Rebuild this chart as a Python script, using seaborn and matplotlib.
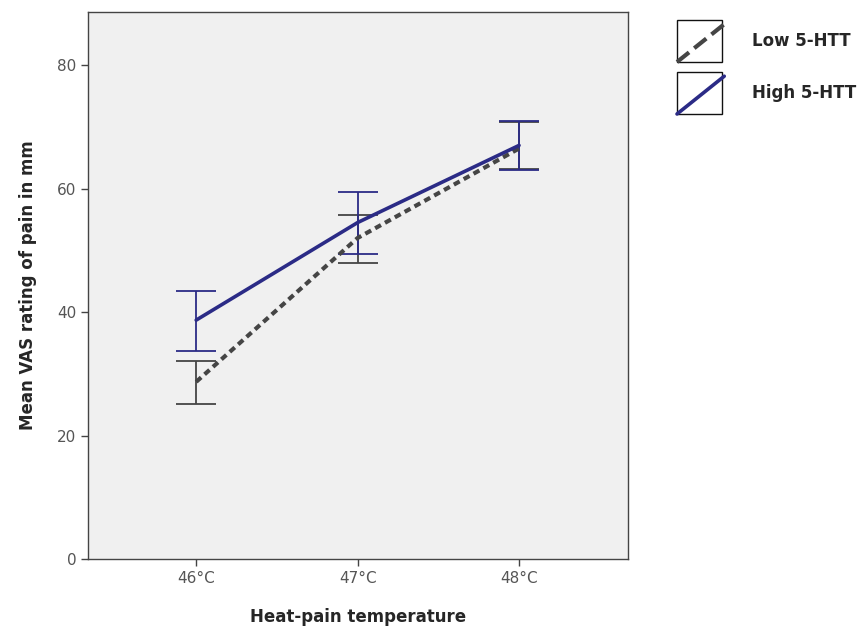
import matplotlib
matplotlib.use("Agg")
import matplotlib.pyplot as plt
import matplotlib.lines as mlines
import matplotlib.patches as mpatches
from matplotlib.legend_handler import HandlerBase
import pandas as pd
import seaborn as sns

# values
temps = ["46°C", "47°C", "48°C"]
groups = ["Low 5-HTT", "High 5-HTT"]
low_mean = [28.7, 52.0, 66.5]
low_upper = [32.1, 55.8, 70.8]
low_lower = [25.1, 47.9, 63.2]
high_mean = [38.7, 54.5, 67.0]
high_upper = [43.4, 59.4, 71.0]
high_lower = [33.7, 49.4, 63.0]

colors = {"Low 5-HTT": "#454545", "High 5-HTT": "#2b2b86"}
dashes = {"Low 5-HTT": (1.6, 1.1), "High 5-HTT": ""}

df = pd.DataFrame({
    "temp": temps * 2,
    "group": [groups[0]] * 3 + [groups[1]] * 3,
    "mean": low_mean + high_mean,
})

sns.set_style("white")
plt.rcParams["font.family"] = ["DejaVu Sans"]

fig = plt.figure(figsize=(8.63, 6.35), dpi=100)
ax = fig.add_axes([0.102, 0.1197, 0.6257, 0.8613])
ax.set_facecolor("#f0f0f0")

# error bars first so the mean lines sit on top
for g, up, lo in [(groups[0], low_upper, low_lower), (groups[1], high_upper, high_lower)]:
    m = df[df["group"] == g]["mean"].values
    ax.errorbar(range(len(temps)), m,
                yerr=[[a - b for a, b in zip(m, lo)], [a - b for a, b in zip(up, m)]],
                fmt="none", ecolor=colors[g], elinewidth=1.3, capsize=14.5, capthick=1.3,
                zorder=2)

sns.lineplot(data=df, x="temp", y="mean", hue="group", style="group",
             palette=colors, dashes=dashes, linewidth=3, sort=False,
             legend=False, ax=ax, zorder=3)
ax.get_lines()[-1].set_linewidth(2.6)

ax.set_xlim(-0.67, 2.675)
ax.set_ylim(0, 88.6)
ax.set_yticks([0, 20, 40, 60, 80])
ax.tick_params(axis="both", direction="out", length=5, width=1, color="#444444",
               labelcolor="#555555", labelsize=11, left=True, bottom=True)
for s in ax.spines.values():
    s.set_color("#444444")
    s.set_linewidth(1)

ax.set_xlabel("Heat-pain temperature", fontsize=12, fontweight="bold", labelpad=16)
ax.set_ylabel("Mean VAS rating of pain in mm", fontsize=12, fontweight="bold", labelpad=14)


class BoxLine(HandlerBase):
    def create_artists(self, legend, orig, xd, yd, w, h, fontsize, trans):
        box = mpatches.Rectangle((-xd, -yd), w, h, facecolor="white",
                                 edgecolor="#111111", lw=1, transform=trans)
        ln = mlines.Line2D([-xd, -xd + w * 1.05], [-yd, -yd + h * 0.9],
                           color=orig.get_color(), lw=orig.get_linewidth(),
                           linestyle=orig.get_linestyle(), transform=trans)
        return [box, ln]


handles = [mlines.Line2D([], [], color=colors[groups[0]], lw=3, linestyle=(0, (1.3, 1.3))),
           mlines.Line2D([], [], color=colors[groups[1]], lw=2.6)]
fig.legend(handles, groups, loc="upper left", bbox_to_anchor=(677 / 863, 1 - 20 / 635),
           frameon=False, borderpad=0, borderaxespad=0, handlelength=2.7,
           handleheight=3.5, labelspacing=0.6, handletextpad=1.8,
           prop={"weight": "bold", "size": 12}, handler_map={mlines.Line2D: BoxLine()})

fig.savefig("out.png", dpi=100)
